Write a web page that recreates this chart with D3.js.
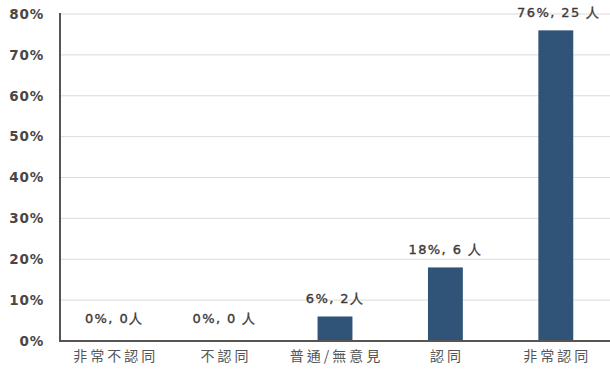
<!DOCTYPE html>
<html>
<head>
<meta charset="utf-8">
<script src="https://cdn.jsdelivr.net/npm/d3@7"></script>
<style>
  html, body { margin: 0; padding: 0; background: #fff; }
  svg { display: block; }
</style>
</head>
<body>
<svg id="chart" width="610" height="376"></svg>
<script>
// Survey responses: share and head count per answer
const categories = ["非常不認同", "不認同", "普通/無意見", "認同", "非常認同"];
const shares = [0, 0, 6, 18, 76];
const counts = [0, 0, 2, 6, 25];
const valueLabels = ["0%, 0人", "0%, 0 人", "6%, 2人", "18%, 6 人", "76%, 25 人"];
const yTicks = [0, 10, 20, 30, 40, 50, 60, 70, 80];

const svg = d3.select("#chart");
const plotLeft = 60, plotRight = 611, plotTop = 14, plotBottom = 341;

const x = d3.scaleBand()
  .domain(categories)
  .range([plotLeft - 1, plotRight])
  .paddingInner(0.684)
  .paddingOuter(0.342);

const y = d3.scaleLinear().domain([0, 80]).range([plotBottom, plotTop]);

// horizontal gridlines
svg.append("g")
  .selectAll("line")
  .data(yTicks.filter(d => d > 0))
  .join("line")
  .attr("x1", plotLeft)
  .attr("x2", 610)
  .attr("y1", d => y(d))
  .attr("y2", d => y(d))
  .attr("stroke", "#dedad6")
  .attr("stroke-width", 1);

// y axis tick labels
const yAxis = d3.axisLeft(y).tickValues(yTicks).tickFormat(d => d + "%").tickSize(0).tickPadding(16);
const gy = svg.append("g").attr("transform", `translate(${plotLeft},0)`).call(yAxis);
gy.select(".domain").remove();
gy.selectAll("text")
  .attr("fill", "#4a4646")
  .attr("font-family", "DejaVu Sans, sans-serif")
  .attr("font-weight", "bold")
  .attr("font-size", 13.5)
  .attr("letter-spacing", 0.8);

// bars
svg.append("g")
  .selectAll("rect")
  .data(categories)
  .join("rect")
  .attr("x", d => x(d))
  .attr("width", x.bandwidth())
  .attr("y", (d, i) => y(shares[i]))
  .attr("height", (d, i) => plotBottom - y(shares[i]))
  .attr("fill", "#2f5478");

// value labels above bars
svg.append("g")
  .selectAll("text")
  .data(categories)
  .join("text")
  .attr("x", (d, i) => x(d) + x.bandwidth() / 2 + (i === 4 ? 3 : 0))
  .attr("y", (d, i) => y(shares[i]) - (shares[i] === 0 ? 18 : 13))
  .attr("text-anchor", "middle")
  .attr("fill", "#3c3838")
  .attr("stroke", "#3c3838")
  .attr("stroke-width", 0.35)
  .attr("font-family", "DejaVu Sans, sans-serif")
  .attr("font-size", 13)
  .attr("letter-spacing", 1.4)
  .text((d, i) => valueLabels[i]);

// axis lines
svg.append("line")
  .attr("x1", plotLeft).attr("x2", plotLeft)
  .attr("y1", plotTop - 1).attr("y2", plotBottom + 1)
  .attr("stroke", "#5a5450").attr("stroke-width", 2);
svg.append("line")
  .attr("x1", plotLeft - 1).attr("x2", 610)
  .attr("y1", plotBottom).attr("y2", plotBottom)
  .attr("stroke", "#5a5450").attr("stroke-width", 2);

// category labels
const xAxis = d3.axisBottom(x).tickSize(0).tickPadding(10);
const gx = svg.append("g").attr("transform", `translate(0,${plotBottom})`).call(xAxis);
gx.select(".domain").remove();
gx.selectAll("text")
  .attr("fill", "#555")
  .attr("font-family", "Noto Sans CJK TC, sans-serif")
  .attr("font-size", 14)
  .attr("letter-spacing", 3)
  .attr("dx", 1.5);
</script>
</body>
</html>
